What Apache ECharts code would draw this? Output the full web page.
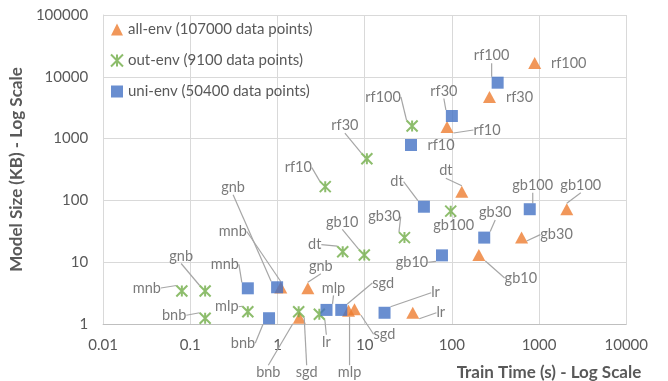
<!DOCTYPE html>
<html>
<head>
<meta charset="utf-8">
<script src="https://cdn.jsdelivr.net/npm/echarts@6/dist/echarts.min.js"></script>
<style>
html,body{margin:0;padding:0;background:#fff;}
#c{width:651px;height:381px;}
</style>
</head>
<body>
<div id="c"></div>
<script>
// ---- data ----
var models = ['rf100','rf30','rf10','dt','gb100','gb30','gb10','lr','sgd','mlp','gnb','mnb','bnb'];

var allEnvTime = [891, 270, 88, 130, 2080, 630, 204, 35.6, 7.64, 6.53, 2.23, 1.09, 1.78];
var allEnvSize = [16700, 4700, 1540, 138, 72, 25, 13.1, 1.52, 1.73, 1.64, 3.78, 3.9, 1.26];

var outEnvTime = [35, 10.6, 3.53, 5.6, 97, 28.6, 9.9, 3.02, 1.75, 0.457, 0.148, 0.080, 0.148];
var outEnvSize = [1600, 473, 167, 14.8, 67, 25, 13.1, 1.44, 1.58, 1.58, 3.42, 3.42, 1.24];

var uniEnvTime = [335, 100, 34, 47.8, 782, 235, 77, 16.9, 5.39, 3.65, 0.99, 0.457, 0.80];
var uniEnvSize = [8030, 2320, 788, 79, 72, 25, 12.9, 1.52, 1.69, 1.69, 3.93, 3.78, 1.24];

var seriesNames = ['all-env (107000 data points)', 'out-env (9100 data points)', 'uni-env (50400 data points)'];
var xTicks = [0.01, 0.1, 1, 10, 100, 1000, 10000];
var yTicks = [1, 10, 100, 1000, 10000, 100000];

// ---- label placement (styling: offsets of label from its mark, in px; 3rd = leader line) ----
var labelOffsets = [
  [[34,0,0],[30,0,0],[40,3,1],[-16,-21,1],[14,-24,1],[35,-3,1],[42,23,1],[28,0,1],[30,25,1],[1,62,1],[13,-22,1],[-48,-56,1],[-31,55,1]],
  [[-29,-29,1],[-22,-33,1],[-27,-19,1],[-28,-7,1],[3,14,1],[-20,-21,1],[-22,-33,1],[7,28,1],[8,61,1],[-21,-5,1],[-24,-35,1],[-35,-3,1],[-31,-3,1]],
  [[-6,-27,1],[-8,-25,1],[30,0,0],[-27,-25,1],[3,-24,1],[11,-25,1],[-30,7,1],[51,-20,1],[42,-27,1],[7,-22,1],[-44,-100,1],[-23,-24,1],[-26,25,1]]
];

var FONT = 'Lato';
var GRAY = '#595959';
var colors = ['#ED7D31', '#70AD47', '#4472C4'];
var starPath = 'path://M0,0L10,10M10,0L0,10M5,0L5,10';

function buildData(xs, ys, si) {
  return models.map(function (m, i) {
    return {
      name: m,
      value: [xs[i], ys[i]],
      labelLine: { show: !!labelOffsets[si][i][2] }
    };
  });
}

var chart = echarts.init(document.getElementById('c'));

function mkSeries(si, xs, ys, symbol, size, itemStyle) {
  return {
    type: 'scatter',
    name: seriesNames[si],
    symbol: symbol,
    symbolSize: size,
    itemStyle: itemStyle,
    data: buildData(xs, ys, si),
    z: 2 + si,
    label: {
      show: true,
      position: 'inside',
      formatter: '{b}',
      color: GRAY,
      fontFamily: FONT,
      fontSize: 14.5
    },
    labelLine: {
      show: true,
      lineStyle: { color: '#A6A6A6', width: 1.2 }
    },
    labelLayout: function (p) {
      var o = labelOffsets[si][p.dataIndex];
      return { dx: o[0], dy: o[1] };
    },
    emphasis: { disabled: true }
  };
}

chart.setOption({
  animation: false,
  backgroundColor: '#fff',
  grid: { left: 101, right: 18, top: 15, bottom: 57, containLabel: false },
  legend: {
    orient: 'vertical',
    left: 110,
    top: 22,
    padding: 0,
    itemWidth: 12,
    itemHeight: 12,
    itemGap: 16,
    textStyle: { color: GRAY, fontFamily: FONT, fontSize: 15 },
    data: seriesNames
  },
  xAxis: {
    type: 'log',
    logBase: 10,
    min: xTicks[0],
    max: xTicks[xTicks.length - 1],
    name: 'Train Time (s) - Log Scale',
    nameLocation: 'end',
    nameGap: 15,
    nameTextStyle: { color: GRAY, fontFamily: FONT, fontSize: 17, fontWeight: 'bold', align: 'right', verticalAlign: 'top', padding: [40, 0, 0, 0] },
    axisLine: { lineStyle: { color: '#BFBFBF' } },
    axisTick: { show: false },
    axisLabel: { color: GRAY, fontFamily: FONT, fontSize: 15, margin: 14,
      formatter: function (v) { return String(+v.toPrecision(6)); } },
    splitLine: { show: true, lineStyle: { color: '#D9D9D9' } }
  },
  yAxis: {
    type: 'log',
    logBase: 10,
    min: yTicks[0],
    max: yTicks[yTicks.length - 1],
    name: 'Model Size (KB) - Log Scale',
    nameLocation: 'middle',
    nameGap: 72,
    nameTextStyle: { color: GRAY, fontFamily: FONT, fontSize: 17, fontWeight: 'bold' },
    axisLine: { show: true, lineStyle: { color: '#D9D9D9' } },
    axisTick: { show: false },
    axisLabel: { color: GRAY, fontFamily: FONT, fontSize: 15, margin: 15,
      formatter: function (v) { return String(+v.toPrecision(6)); } },
    splitLine: { show: true, lineStyle: { color: '#D9D9D9' } }
  },
  series: [
    mkSeries(0, allEnvTime, allEnvSize, 'triangle', [13, 12], { color: colors[0] }),
    mkSeries(1, outEnvTime, outEnvSize, starPath, 11, { color: 'rgba(0,0,0,0)', borderColor: colors[1], borderWidth: 2 }),
    mkSeries(2, uniEnvTime, uniEnvSize, 'rect', 12, { color: colors[2] })
  ]
});
</script>
</body>
</html>
